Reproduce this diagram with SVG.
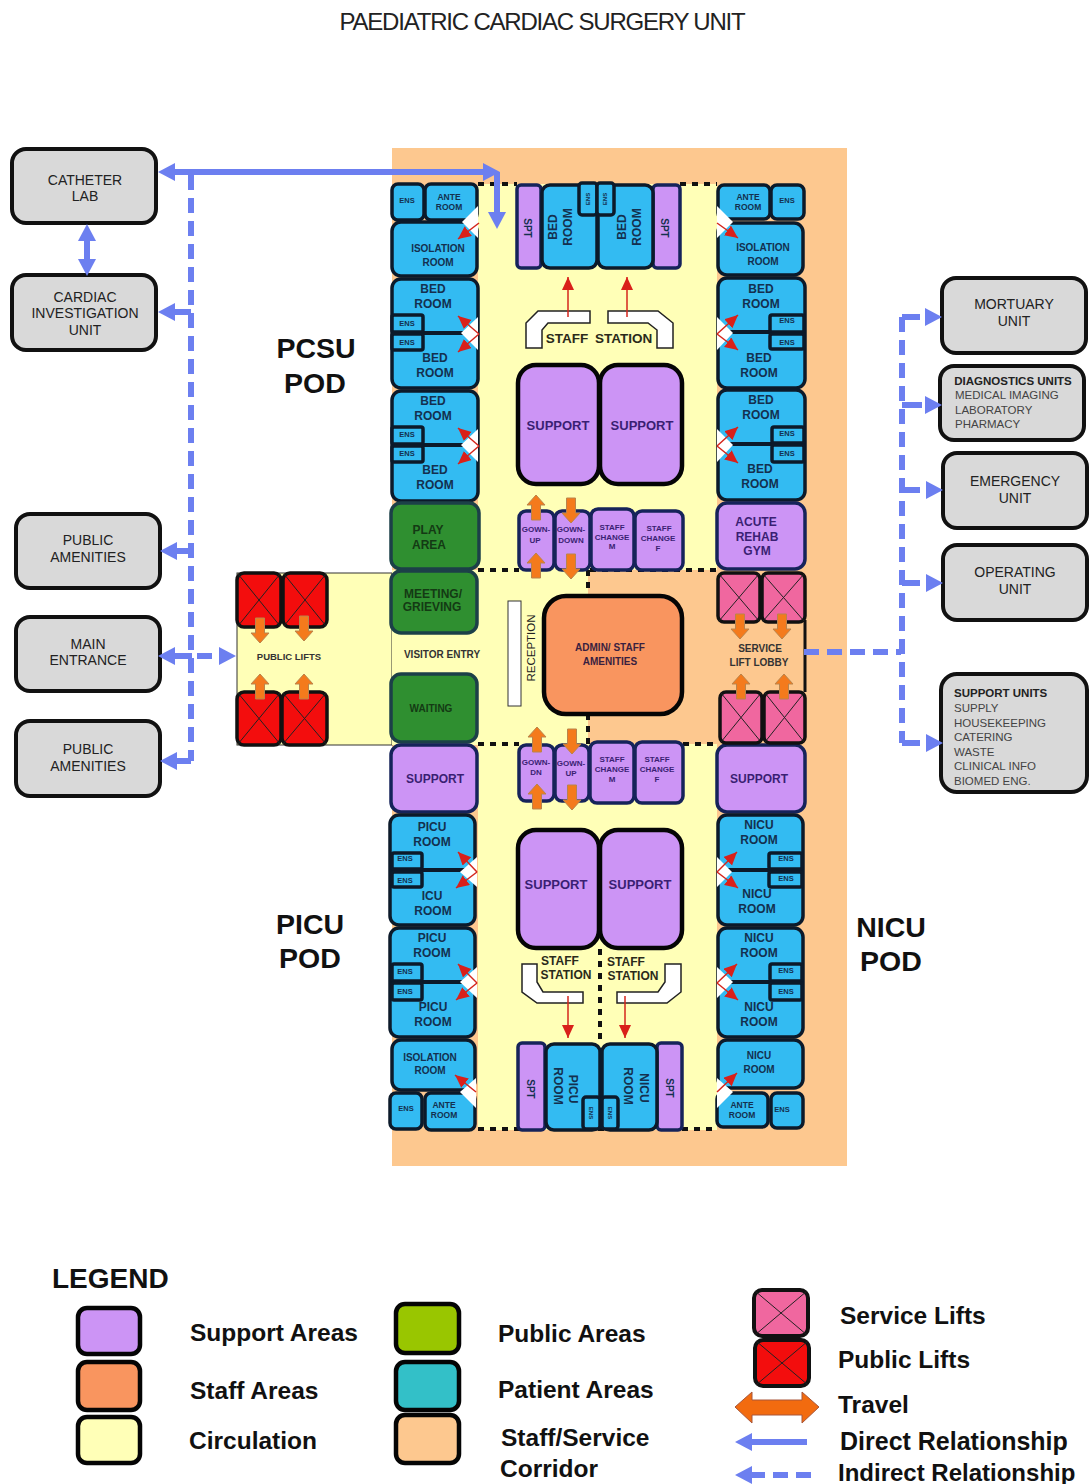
<svg xmlns="http://www.w3.org/2000/svg" xmlns:xlink="http://www.w3.org/1999/xlink" width="1090" height="1484" viewBox="0 0 1090 1484">
<style>
text{font-family:"Liberation Sans",Arial,sans-serif;text-anchor:middle;fill:#14304f}
.r{fill:#33bbf2;stroke:#0c1a2a;stroke-width:3.5}
.s{fill:#cc94f5;stroke:#16235a;stroke-width:3.5}
.S{fill:#cc94f5;stroke:#050505;stroke-width:4.5}
.g{fill:#2f8f30;stroke:#1c4048;stroke-width:3.5}
.u{fill:#d9d9d9;stroke:#111;stroke-width:4}
.sw{stroke:#050505;stroke-width:4.5}
.pl{fill:#f30d0d;stroke:#111;stroke-width:3.5}
.sl{fill:#f0679f;stroke:#111;stroke-width:3.5}
.x{stroke:#222;stroke-width:1;fill:none}
.t{font-size:12px;font-weight:700}
.e{font-size:7.5px;font-weight:700}
.a{font-size:8.5px;font-weight:700}
.p{font-size:13px;font-weight:700;fill:#3a1f73}
.c{font-size:8px;font-weight:700;fill:#3a1f73}
.n{font-size:14px;fill:#222}
.m{font-size:11.5px;fill:#444}
.b{font-size:11.5px;font-weight:700;fill:#222}
.pod{font-size:28.5px;font-weight:700;fill:#111}
.l{font-size:24.5px;font-weight:700;fill:#111;text-anchor:start}
.st{fill:#fff;stroke:#222;stroke-width:1.5}
.dot{stroke:#111;stroke-width:4;stroke-dasharray:6 6;fill:none}
.bl{stroke:#6c7ff0;stroke-width:6;fill:none}
.da{stroke:#6c7ff0;stroke-width:6;fill:none;stroke-dasharray:15 8}
.red{stroke:#d4261c;stroke-width:1.5;fill:none;marker-end:url(#rh)}
.wd{fill:#fff}
.oa{fill:#f47a1c;stroke:#b9844c;stroke-width:1}
.ah{fill:#6c7ff0}
</style>
<defs>
<marker id="rh" markerUnits="userSpaceOnUse" markerWidth="15" markerHeight="14" refX="13" refY="6" orient="auto"><path d="M0 0L13 6L0 12z" fill="#d9201a"/></marker>
<polygon id="up" class="oa" points="0,-13 9,-3 4.500,-3 4.500,12 -4.500,12 -4.500,-3 -9,-3"/>
<polygon id="ahead" class="ah" points="0,0 -17,-9 -17,9"/>
</defs>
<g id="title"><text x="542" y="30" style="font-size:24px;fill:#222;letter-spacing:-1.2px">PAEDIATRIC CARDIAC SURGERY UNIT</text></g>
<g id="floor">
<rect x="392" y="148" width="455" height="1018" fill="#fdc88f"/>
<rect x="478" y="184" width="239" height="946" fill="#ffffb7"/>
<rect x="237" y="573" width="155" height="172" fill="#ffffb7" stroke="#333" stroke-width="1"/>
<rect x="392" y="570" width="196" height="175" fill="#ffffb7"/>
<rect x="588" y="570" width="130" height="174" fill="#fdc88f"/>
<path d="M805 620V692" stroke="#111" stroke-width="3"/>
<path class="dot" d="M478 184H517M680 184H717M478 570H519M590 570H717M478 744H519M683 744H717M588 570V596M588 714V744M600 949V1044M478 1129H717"/>
</g>
<g id="isolation-nw"><rect class="r" x="392" y="184" width="32" height="36" rx="6"/><text class="e" x="407" y="203">ENS</text><rect class="r" x="425" y="184" width="52" height="36" rx="6"/><text class="a" x="449" y="200">ANTE</text><text class="a" x="449" y="210">ROOM</text><rect class="r" x="392" y="222" width="85" height="54" rx="9"/><text class="a" x="438" y="252" style="font-size:10px">ISOLATION</text><text class="a" x="438" y="266" style="font-size:10px">ROOM</text></g>
<g id="beds-w1"><rect class="r" x="392" y="279" width="86" height="109" rx="9"/><path d="M392 333H478" stroke="#0c1a2a" stroke-width="4"/><rect class="r" x="392" y="315" width="31" height="17" rx="2"/><rect class="r" x="392" y="334" width="31" height="16" rx="2"/><text class="e" x="407" y="326">ENS</text><text class="e" x="407" y="345">ENS</text><text class="t" x="433" y="293">BED</text><text class="t" x="433" y="308">ROOM</text><text class="t" x="435" y="362">BED</text><text class="t" x="435" y="377">ROOM</text></g>
<g id="beds-w2"><rect class="r" x="392" y="391" width="86" height="110" rx="9"/><path d="M392 445H478" stroke="#0c1a2a" stroke-width="4"/><rect class="r" x="392" y="427" width="31" height="17" rx="2"/><rect class="r" x="392" y="446" width="31" height="16" rx="2"/><text class="e" x="407" y="437">ENS</text><text class="e" x="407" y="456">ENS</text><text class="t" x="433" y="405">BED</text><text class="t" x="433" y="420">ROOM</text><text class="t" x="435" y="474">BED</text><text class="t" x="435" y="489">ROOM</text></g>
<g id="isolation-ne"><rect class="r" x="718" y="185" width="52" height="34" rx="6"/><text class="a" x="748" y="200">ANTE</text><text class="a" x="748" y="210">ROOM</text><rect class="r" x="771" y="185" width="33" height="34" rx="6"/><text class="e" x="787" y="203">ENS</text><rect class="r" x="718" y="223" width="85" height="52" rx="9"/><text class="a" x="763" y="251" style="font-size:10px">ISOLATION</text><text class="a" x="763" y="265" style="font-size:10px">ROOM</text></g>
<g id="beds-e1"><rect class="r" x="718" y="278" width="87" height="110" rx="9"/><path d="M718 332H805" stroke="#0c1a2a" stroke-width="4"/><rect class="r" x="770" y="315" width="34" height="17" rx="2"/><rect class="r" x="770" y="334" width="34" height="15" rx="2"/><text class="e" x="787" y="323">ENS</text><text class="e" x="787" y="345">ENS</text><text class="t" x="761" y="293">BED</text><text class="t" x="761" y="308">ROOM</text><text class="t" x="759" y="362">BED</text><text class="t" x="759" y="377">ROOM</text></g>
<g id="beds-e2"><rect class="r" x="718" y="390" width="87" height="110" rx="9"/><path d="M718 444H805" stroke="#0c1a2a" stroke-width="4"/><rect class="r" x="772" y="427" width="32" height="16" rx="2"/><rect class="r" x="772" y="445" width="32" height="17" rx="2"/><text class="e" x="787" y="436">ENS</text><text class="e" x="787" y="456">ENS</text><text class="t" x="761" y="404">BED</text><text class="t" x="761" y="419">ROOM</text><text class="t" x="760" y="473">BED</text><text class="t" x="760" y="488">ROOM</text></g>
<g id="centre-top"><rect class="s" x="517" y="185" width="24" height="83" rx="4"/><rect class="s" x="653" y="185" width="27" height="83" rx="4"/><text class="a" transform="translate(524,228) rotate(90)" style="font-size:10px">SPT</text><text class="a" transform="translate(661,228) rotate(90)" style="font-size:10px">SPT</text>
<rect class="r" x="542" y="185" width="55" height="83" rx="8"/><rect class="r" x="598" y="185" width="55" height="83" rx="8"/>
<rect class="r" x="579" y="183" width="18" height="32" rx="3"/><rect class="r" x="597" y="183" width="17" height="32" rx="3"/><text class="e" transform="translate(590,199) rotate(-90)" style="font-size:6px">ENS</text><text class="e" transform="translate(607,199) rotate(-90)" style="font-size:6px">ENS</text>
<text class="t" transform="translate(557,227) rotate(-90)">BED</text><text class="t" transform="translate(572,227) rotate(-90)">ROOM</text><text class="t" transform="translate(626,227) rotate(-90)">BED</text><text class="t" transform="translate(641,227) rotate(-90)">ROOM</text></g>
<g id="staff-station-top"><polygon class="st" points="526,348 526,323 538,311 590,311 590,323 548,323 542,330 542,348"/><polygon class="st" points="608,311 658,311 673,323 673,348 657,348 657,330 648,323 608,323"/><text x="599" y="343" style="font-size:13.500px;font-weight:700;fill:#2a2a1a;word-spacing:3px">STAFF STATION</text></g>
<g id="support-top"><rect class="S" x="518" y="365" width="81" height="119" rx="18"/><rect class="S" x="600" y="365" width="82" height="119" rx="18"/><text class="p" x="558" y="430">SUPPORT</text><text class="p" x="642" y="430">SUPPORT</text></g>
<g id="play-area"><rect class="g" x="391" y="503" width="88" height="66" rx="10"/><text class="t" x="428" y="534" style="fill:#143a14">PLAY</text><text class="t" x="429" y="549" style="fill:#143a14">AREA</text></g>
<g id="meeting"><rect class="g" x="391" y="571" width="86" height="62" rx="10"/><text class="t" x="433" y="598" style="fill:#143a14">MEETING/</text><text class="t" x="432" y="611" style="fill:#143a14">GRIEVING</text></g>
<g id="waiting"><rect class="g" x="391" y="674" width="86" height="68" rx="10"/><text class="a" x="431" y="712" style="font-size:10px;fill:#143a14">WAITING</text></g>
<g id="acute-rehab"><rect class="s" x="717" y="503" width="88" height="66" rx="10"/><text class="t" x="756" y="526" style="fill:#3a1f73">ACUTE</text><text class="t" x="757" y="541" style="fill:#3a1f73">REHAB</text><text class="t" x="757" y="555" style="fill:#3a1f73">GYM</text></g>
<g id="support-w"><rect class="s" x="391" y="745" width="86" height="67" rx="10"/><text class="t" x="435" y="783" style="fill:#3a1f73">SUPPORT</text></g>
<g id="support-e"><rect class="s" x="717" y="745" width="88" height="67" rx="10"/><text class="t" x="759" y="783" style="fill:#3a1f73">SUPPORT</text></g>
<g id="gown-top"><rect class="s" x="519" y="511" width="35" height="59" rx="7"/><rect class="s" x="555" y="511" width="35" height="59" rx="7"/><rect class="s" x="591" y="509" width="43" height="61" rx="7"/><rect class="s" x="635" y="511" width="48" height="59" rx="7"/><text class="c" x="536" y="532">GOWN-</text><text class="c" x="535" y="543">UP</text><text class="c" x="571" y="532">GOWN-</text><text class="c" x="571" y="543">DOWN</text><text class="c" x="612" y="530">STAFF</text><text class="c" x="612" y="540">CHANGE</text><text class="c" x="612" y="549">M</text><text class="c" x="659" y="531">STAFF</text><text class="c" x="658" y="541">CHANGE</text><text class="c" x="658" y="551">F</text></g>
<g id="gown-bottom"><rect class="s" x="519" y="745" width="35" height="56" rx="7"/><rect class="s" x="555" y="745" width="34" height="56" rx="7"/><rect class="s" x="590" y="742" width="44" height="61" rx="7"/><rect class="s" x="635" y="742" width="48" height="61" rx="7"/><text class="c" x="536" y="765">GOWN-</text><text class="c" x="536" y="775">DN</text><text class="c" x="571" y="766">GOWN-</text><text class="c" x="571" y="776">UP</text><text class="c" x="612" y="762">STAFF</text><text class="c" x="612" y="772">CHANGE</text><text class="c" x="612" y="782">M</text><text class="c" x="657" y="762">STAFF</text><text class="c" x="657" y="772">CHANGE</text><text class="c" x="657" y="782">F</text></g>
<g id="reception"><rect x="508" y="601" width="13" height="105" fill="#fff" stroke="#333" stroke-width="1"/><text transform="translate(535,648) rotate(-90)" style="font-size:11.500px;fill:#222">RECEPTION</text></g>
<g id="admin"><rect x="544" y="596" width="138" height="118" rx="22" fill="#f9955f" stroke="#050505" stroke-width="4.500"/><text class="c" x="610" y="651" style="font-size:10px;fill:#3a1f40">ADMIN/ STAFF</text><text class="c" x="610" y="665" style="font-size:10px;fill:#3a1f40">AMENITIES</text></g>
<g id="public-lifts"><rect class="pl" x="237" y="573" width="44" height="54" rx="7"/><rect class="pl" x="283" y="573" width="44" height="54" rx="7"/><rect class="pl" x="237" y="692" width="44" height="53" rx="7"/><rect class="pl" x="282" y="692" width="45" height="53" rx="7"/><path class="x" d="M238 574L280 626M280 574L238 626M284 574L326 626M326 574L284 626M238 693L280 744M280 693L238 744M283 693L326 744M326 693L283 744"/><text x="289" y="660" style="font-size:9.500px;font-weight:700;fill:#333">PUBLIC LIFTS</text></g>
<g id="visitor-entry"><text x="442" y="658" style="font-size:10px;font-weight:700;fill:#333">VISITOR ENTRY</text></g>
<g id="service-lifts"><rect class="sl" x="718" y="573" width="42" height="49" rx="6"/><rect class="sl" x="762" y="573" width="43" height="49" rx="6"/><rect class="sl" x="720" y="692" width="42" height="51" rx="6"/><rect class="sl" x="764" y="692" width="41" height="51" rx="6"/><path class="x" d="M719 574L759 621M759 574L719 621M763 574L804 621M804 574L763 621M721 693L761 742M761 693L721 742M765 693L804 742M804 693L765 742"/><text x="760" y="652" style="font-size:10px;font-weight:700;fill:#333">SERVICE</text><text x="759" y="666" style="font-size:10px;font-weight:700;fill:#333">LIFT LOBBY</text></g>
<g id="beds-sw1"><rect class="r" x="390" y="815" width="85" height="110" rx="9"/><path d="M390 870H475" stroke="#0c1a2a" stroke-width="4"/><rect class="r" x="392" y="853" width="30" height="16" rx="2"/><rect class="r" x="392" y="872" width="30" height="15" rx="2"/><text class="e" x="405" y="861">ENS</text><text class="e" x="405" y="883">ENS</text><text class="t" x="432" y="831">PICU</text><text class="t" x="432" y="846">ROOM</text><text class="t" x="432" y="900">ICU</text><text class="t" x="433" y="915">ROOM</text></g>
<g id="beds-sw2"><rect class="r" x="390" y="928" width="85" height="109" rx="9"/><path d="M390 982H475" stroke="#0c1a2a" stroke-width="4"/><rect class="r" x="392" y="964" width="30" height="17" rx="2"/><rect class="r" x="392" y="983" width="30" height="17" rx="2"/><text class="e" x="405" y="974">ENS</text><text class="e" x="405" y="994">ENS</text><text class="t" x="432" y="942">PICU</text><text class="t" x="432" y="957">ROOM</text><text class="t" x="433" y="1011">PICU</text><text class="t" x="433" y="1026">ROOM</text></g>
<g id="isolation-sw"><rect class="r" x="392" y="1040" width="83" height="50" rx="9"/><text class="a" x="430" y="1061" style="font-size:10px">ISOLATION</text><text class="a" x="430" y="1074" style="font-size:10px">ROOM</text><rect class="r" x="390" y="1093" width="32" height="36" rx="6"/><text class="e" x="406" y="1111">ENS</text><rect class="r" x="425" y="1093" width="50" height="37" rx="6"/><text class="a" x="444" y="1108">ANTE</text><text class="a" x="444" y="1118">ROOM</text></g>
<g id="beds-se1"><rect class="r" x="718" y="815" width="85" height="110" rx="9"/><path d="M718 870H803" stroke="#0c1a2a" stroke-width="4"/><rect class="r" x="769" y="853" width="33" height="16" rx="2"/><rect class="r" x="769" y="872" width="33" height="15" rx="2"/><text class="e" x="786" y="861">ENS</text><text class="e" x="786" y="881">ENS</text><text class="t" x="759" y="829">NICU</text><text class="t" x="759" y="844">ROOM</text><text class="t" x="757" y="898">NICU</text><text class="t" x="757" y="913">ROOM</text></g>
<g id="beds-se2"><rect class="r" x="718" y="928" width="85" height="109" rx="9"/><path d="M718 982H803" stroke="#0c1a2a" stroke-width="4"/><rect class="r" x="770" y="964" width="32" height="17" rx="2"/><rect class="r" x="770" y="983" width="32" height="17" rx="2"/><text class="e" x="786" y="973">ENS</text><text class="e" x="786" y="994">ENS</text><text class="t" x="759" y="942">NICU</text><text class="t" x="759" y="957">ROOM</text><text class="t" x="759" y="1011">NICU</text><text class="t" x="759" y="1026">ROOM</text></g>
<g id="isolation-se"><rect class="r" x="718" y="1040" width="85" height="48" rx="9"/><text class="a" x="759" y="1059" style="font-size:10px">NICU</text><text class="a" x="759" y="1073" style="font-size:10px">ROOM</text><rect class="r" x="717" y="1093" width="51" height="34" rx="6"/><text class="a" x="742" y="1108">ANTE</text><text class="a" x="742" y="1118">ROOM</text><rect class="r" x="771" y="1093" width="32" height="35" rx="6"/><text class="e" x="782" y="1112">ENS</text></g>
<g id="support-bottom"><rect class="S" x="518" y="830" width="81" height="118" rx="18"/><rect class="S" x="600" y="830" width="82" height="118" rx="18"/><text class="p" x="556" y="889">SUPPORT</text><text class="p" x="640" y="889">SUPPORT</text></g>
<g id="staff-station-bottom"><polygon class="st" points="522,964 537,964 537,982 543,992 583,992 583,1003 537,1003 522,992"/><polygon class="st" points="665,964 681,964 681,992 667,1003 617,1003 617,992 658,992 665,982"/><text x="560" y="965" style="font-size:12px;font-weight:700;fill:#2a2a1a">STAFF</text><text x="566" y="979" style="font-size:12px;font-weight:700;fill:#2a2a1a">STATION</text><text x="626" y="966" style="font-size:12px;font-weight:700;fill:#2a2a1a">STAFF</text><text x="633" y="980" style="font-size:12px;font-weight:700;fill:#2a2a1a">STATION</text></g>
<g id="centre-bottom"><rect class="s" x="518" y="1043" width="27" height="87" rx="4"/><rect class="s" x="657" y="1043" width="25" height="87" rx="4"/><text class="a" transform="translate(527,1089) rotate(90)" style="font-size:10px">SPT</text><text class="a" transform="translate(666,1088) rotate(90)" style="font-size:10px">SPT</text>
<rect class="r" x="546" y="1044" width="54" height="86" rx="8"/><rect class="r" x="602" y="1044" width="55" height="86" rx="8"/>
<rect class="r" x="583" y="1097" width="17" height="32" rx="3"/><rect class="r" x="602" y="1097" width="16" height="32" rx="3"/><text class="e" transform="translate(589,1113) rotate(90)" style="font-size:6px">ENS</text><text class="e" transform="translate(608,1113) rotate(90)" style="font-size:6px">ENS</text>
<text class="t" transform="translate(569,1089) rotate(90)">PICU</text><text class="t" transform="translate(554,1086) rotate(90)">ROOM</text><text class="t" transform="translate(640,1088) rotate(90)">NICU</text><text class="t" transform="translate(624,1086) rotate(90)">ROOM</text></g>
<g id="pod-labels"><text class="pod" x="316" y="358">PCSU</text><text class="pod" x="315" y="393">POD</text><text class="pod" x="310" y="934">PICU</text><text class="pod" x="310" y="968">POD</text><text class="pod" x="891" y="937">NICU</text><text class="pod" x="891" y="971">POD</text></g>
<g id="catheter-lab"><rect class="u" x="12" y="149" width="144" height="74" rx="14"/><text class="n" x="85" y="185">CATHETER</text><text class="n" x="85" y="201">LAB</text></g>
<g id="cardiac"><rect class="u" x="12" y="275" width="144" height="75" rx="14"/><text class="n" x="85" y="302">CARDIAC</text><text class="n" x="85" y="318">INVESTIGATION</text><text class="n" x="85" y="335">UNIT</text></g>
<g id="amenities-1"><rect class="u" x="16" y="514" width="144" height="74" rx="14"/><text class="n" x="88" y="545">PUBLIC</text><text class="n" x="88" y="562">AMENITIES</text></g>
<g id="main-entrance"><rect class="u" x="16" y="617" width="144" height="74" rx="14"/><text class="n" x="88" y="649">MAIN</text><text class="n" x="88" y="665">ENTRANCE</text></g>
<g id="amenities-2"><rect class="u" x="16" y="721" width="144" height="75" rx="14"/><text class="n" x="88" y="754">PUBLIC</text><text class="n" x="88" y="771">AMENITIES</text></g>
<g id="mortuary"><rect class="u" x="942" y="278" width="144" height="75" rx="14"/><text class="n" x="1014" y="309">MORTUARY</text><text class="n" x="1014" y="326">UNIT</text></g>
<g id="diagnostics"><rect class="u" x="940" y="366" width="144" height="74" rx="14"/><text class="b" x="1013" y="385">DIAGNOSTICS UNITS</text><text class="m" x="955" y="399" style="text-anchor:start">MEDICAL IMAGING</text><text class="m" x="955" y="414" style="text-anchor:start">LABORATORY</text><text class="m" x="955" y="428" style="text-anchor:start">PHARMACY</text></g>
<g id="emergency"><rect class="u" x="943" y="453" width="144" height="75" rx="14"/><text class="n" x="1015" y="486">EMERGENCY</text><text class="n" x="1015" y="503">UNIT</text></g>
<g id="operating"><rect class="u" x="943" y="545" width="144" height="75" rx="14"/><text class="n" x="1015" y="577">OPERATING</text><text class="n" x="1015" y="594">UNIT</text></g>
<g id="support-units"><rect class="u" x="941" y="674" width="146" height="118" rx="16"/><text class="b" x="954" y="697" style="text-anchor:start">SUPPORT UNITS</text><text class="m" x="954" y="712" style="text-anchor:start">SUPPLY</text><text class="m" x="954" y="727" style="text-anchor:start">HOUSEKEEPING</text><text class="m" x="954" y="741" style="text-anchor:start">CATERING</text><text class="m" x="954" y="756" style="text-anchor:start">WASTE</text><text class="m" x="954" y="770" style="text-anchor:start">CLINICAL INFO</text><text class="m" x="954" y="785" style="text-anchor:start">BIOMED ENG.</text></g>
<g id="doors">
<polygon class="wd" points="478,206 462,222 478,238"/><polygon class="wd" points="717,206 733,222 717,238"/>
<polygon class="wd" points="478,317 461,333 478,350"/><polygon class="wd" points="478,429 461,445 478,462"/>
<polygon class="wd" points="717,317 733,333 717,350"/><polygon class="wd" points="717,429 733,445 717,462"/>
<polygon class="wd" points="477,857 460,872 477,887"/><polygon class="wd" points="477,967 460,982 477,998"/>
<polygon class="wd" points="717,857 732,872 717,887"/><polygon class="wd" points="717,967 733,982 717,998"/>
<polygon class="wd" points="476,1078 460,1092 476,1108"/><polygon class="wd" points="717,1078 733,1092 717,1108"/>
</g>
<g id="connectors">
<path class="red" d="M479 223L458 239"/><path class="red" d="M717 223L738 238"/>
<path class="red" d="M479 334L458 316"/><path class="red" d="M479 334L458 352"/><path class="red" d="M479 446L458 428"/><path class="red" d="M479 446L458 464"/>
<path class="red" d="M717 334L738 315"/><path class="red" d="M717 334L738 350"/><path class="red" d="M717 446L738 427"/><path class="red" d="M717 446L738 463"/>
<path class="red" d="M477 872L458 852"/><path class="red" d="M477 872L456 888"/><path class="red" d="M477 983L458 964"/><path class="red" d="M477 983L456 1000"/>
<path class="red" d="M717 872L737 852"/><path class="red" d="M717 872L738 888"/><path class="red" d="M717 983L737 964"/><path class="red" d="M717 983L738 1000"/>
<path class="red" d="M476 1092L455 1075"/><path class="red" d="M717 1092L737 1073"/>
<path class="red" d="M568 317V277"/><path class="red" d="M627 317V277"/><path class="red" d="M568 996V1038"/><path class="red" d="M625 996V1038"/>
<g id="direct">
<path class="bl" d="M170 172H490M497 172V215M87 234V265M170 656H192"/>
<use xlink:href="#ahead" href="#ahead" transform="translate(158,172) rotate(180)"/><use xlink:href="#ahead" href="#ahead" transform="translate(500,172)"/><use xlink:href="#ahead" href="#ahead" transform="translate(497,229) rotate(90)"/>
<use xlink:href="#ahead" href="#ahead" transform="translate(87,224) rotate(-90)"/><use xlink:href="#ahead" href="#ahead" transform="translate(87,276) rotate(90)"/>
<use xlink:href="#ahead" href="#ahead" transform="translate(158,656) rotate(180)"/>
<use xlink:href="#ahead" href="#ahead" transform="translate(158,312) rotate(180)"/><use xlink:href="#ahead" href="#ahead" transform="translate(160,551) rotate(180)"/><use xlink:href="#ahead" href="#ahead" transform="translate(160,761) rotate(180)"/>
<path class="bl" d="M170 312H191M172 551H191M172 761H191"/>
</g>
<g id="indirect">
<path class="da" d="M191 175V761M197 656H222"/>
<use xlink:href="#ahead" href="#ahead" transform="translate(236,656)"/>
<path class="da" d="M804 652H901"/><path class="da" d="M902 317V743"/>
<path class="bl" d="M902 317H920M902 405H922M902 490H920M902 583H920M902 743H920"/>
<use xlink:href="#ahead" href="#ahead" transform="translate(942,317)"/><use xlink:href="#ahead" href="#ahead" transform="translate(942,405)"/><use xlink:href="#ahead" href="#ahead" transform="translate(943,490)"/><use xlink:href="#ahead" href="#ahead" transform="translate(943,583)"/><use xlink:href="#ahead" href="#ahead" transform="translate(943,743)"/>
</g>
<g id="travel">
<use xlink:href="#up" href="#up" transform="translate(536,508)"/><use xlink:href="#up" href="#up" transform="translate(536,566)"/><use xlink:href="#up" href="#up" transform="translate(571,510) scale(1,-1)"/><use xlink:href="#up" href="#up" transform="translate(571,566) scale(1,-1)"/>
<use xlink:href="#up" href="#up" transform="translate(537,740)"/><use xlink:href="#up" href="#up" transform="translate(537,797)"/><use xlink:href="#up" href="#up" transform="translate(572,741) scale(1,-1)"/><use xlink:href="#up" href="#up" transform="translate(572,797) scale(1,-1)"/>
<use xlink:href="#up" href="#up" transform="translate(260,630) scale(1,-1)"/><use xlink:href="#up" href="#up" transform="translate(304,628) scale(1,-1)"/><use xlink:href="#up" href="#up" transform="translate(260,687)"/><use xlink:href="#up" href="#up" transform="translate(304,687)"/>
<use xlink:href="#up" href="#up" transform="translate(740,626) scale(1,-1)"/><use xlink:href="#up" href="#up" transform="translate(782,626) scale(1,-1)"/><use xlink:href="#up" href="#up" transform="translate(741,687)"/><use xlink:href="#up" href="#up" transform="translate(784,687)"/>
</g>
</g>
<g id="legend">
<text class="l" x="52" y="1288" style="font-size:28px">LEGEND</text>
<rect class="sw" x="78" y="1308" width="62" height="46" rx="9" fill="#cc94f5"/><rect class="sw" x="78" y="1362" width="62" height="48" rx="9" fill="#f9955f"/><rect class="sw" x="78" y="1417" width="62" height="46" rx="9" fill="#ffffb7"/>
<rect class="sw" x="396" y="1304" width="63" height="49" rx="9" fill="#99c600"/><rect class="sw" x="396" y="1362" width="63" height="48" rx="9" fill="#33c0c8"/><rect class="sw" x="396" y="1415" width="63" height="48" rx="9" fill="#fdc88f"/>
<text class="l" x="190" y="1341">Support Areas</text><text class="l" x="190" y="1399">Staff Areas</text><text class="l" x="189" y="1449">Circulation</text>
<text class="l" x="498" y="1342">Public Areas</text><text class="l" x="498" y="1398">Patient Areas</text><text class="l" x="501" y="1446">Staff/Service</text><text class="l" x="500" y="1477">Corridor</text>
<text class="l" x="840" y="1324">Service Lifts</text><text class="l" x="838" y="1368">Public Lifts</text><text class="l" x="838" y="1413">Travel</text><text class="l" x="840" y="1450" style="font-size:25px">Direct Relationship</text><text class="l" x="838" y="1481" style="font-size:24px">Indirect Relationship</text>
<rect class="sl" x="754" y="1290" width="54" height="46" rx="8" style="stroke-width:4"/><path class="x" d="M755 1291L807 1335M807 1291L755 1335"/>
<rect class="pl" x="755" y="1340" width="54" height="46" rx="8" style="stroke-width:4"/><path class="x" d="M756 1341L808 1385M808 1341L756 1385"/>
<polygon points="735,1407 752,1392 752,1400 802,1400 802,1392 819,1407 802,1423 802,1415 752,1415 752,1423" fill="#f26b0f" stroke="#a8563a" stroke-width="1"/>
<path class="bl" d="M750 1442H807"/><use xlink:href="#ahead" href="#ahead" transform="translate(735,1442) rotate(180)"/>
<path class="da" d="M750 1475H815"/><use xlink:href="#ahead" href="#ahead" transform="translate(735,1475) rotate(180)"/>
</g>
</svg>
